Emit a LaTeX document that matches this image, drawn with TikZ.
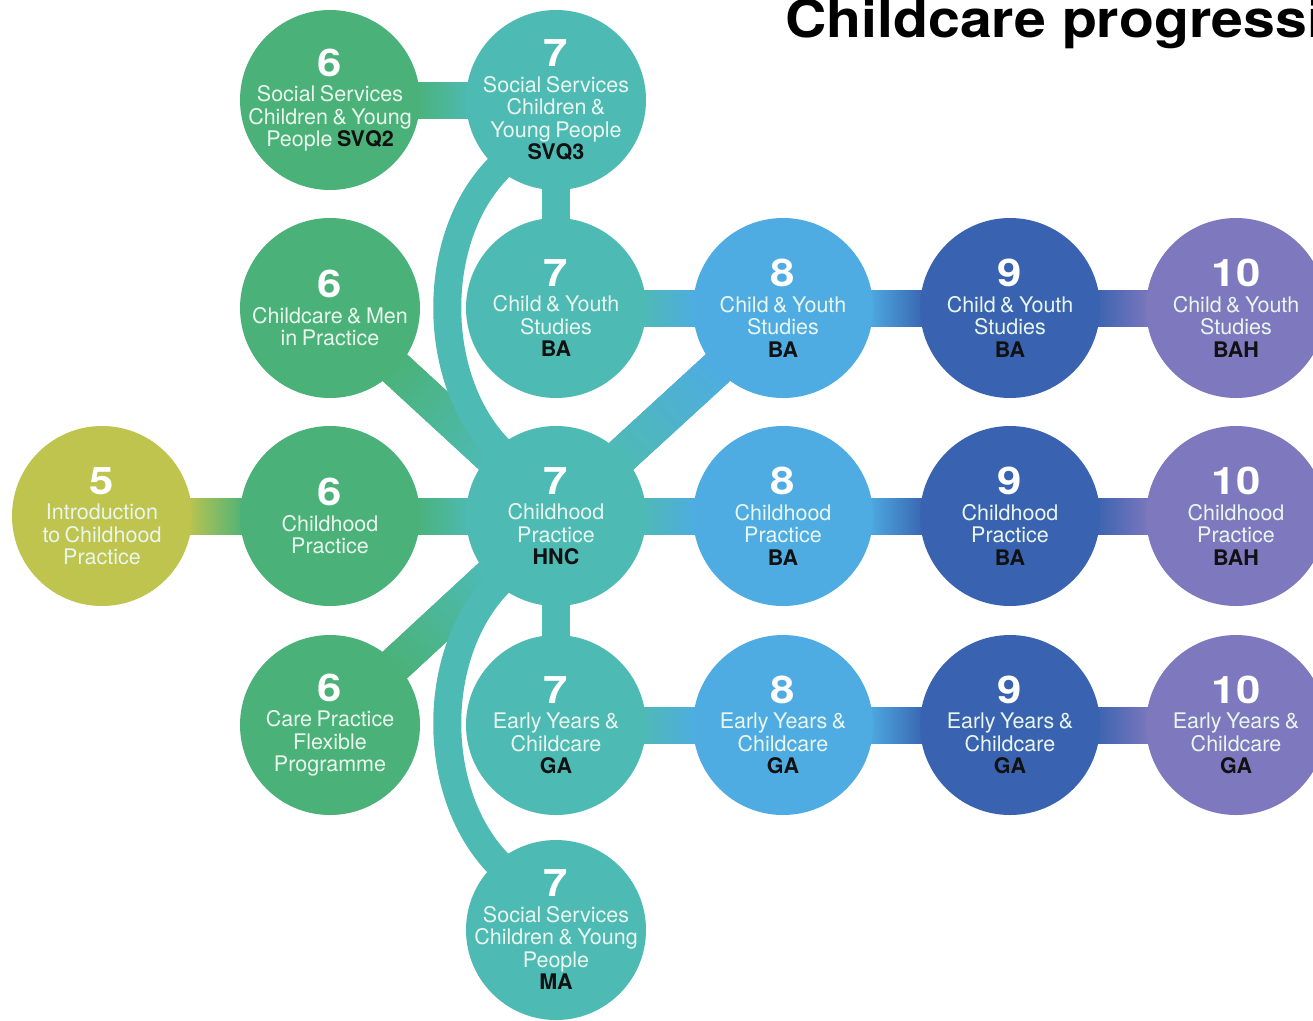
\documentclass[tikz,border=0pt]{standalone}
\usepackage{fontspec}
\setmainfont[WordSpace=0.75]{TeX Gyre Heros}
\newfontfamily\widefont[FakeStretch=1.15]{TeX Gyre Heros}
\newfontfamily\titlefont[FakeStretch=1.1]{TeX Gyre Heros}
\usetikzlibrary{calc,backgrounds}
\definecolor{clime}{HTML}{BEC44E}
\definecolor{cgreen}{HTML}{4AB278}
\definecolor{cteal}{HTML}{4EBAB4}
\definecolor{clblue}{HTML}{4EACE2}
\definecolor{cdblue}{HTML}{3963B0}
\definecolor{cpurple}{HTML}{7E78BE}
\definecolor{ctext}{HTML}{E9F6EE}
\definecolor{ccode}{HTML}{111111}
\newcommand\lvnum[1]{{\widefont\fontsize{38}{38}\selectfont\bfseries\color{white}#1}\\[3pt]}
\newcommand\lvcode[1]{{\bfseries\color{ccode}#1}}
\newcommand\hband[4]{\shade[left color=#3,right color=#4] ($(#1.east)+(-6,-18)$) rectangle ($(#2.west)+(6,18)$);}
\newcommand\dband[4]{%
  \draw[line width=36pt,#3] (#1.center) -- ($(#1.center)!0.5!(#2.center)$);
  \draw[line width=36pt,#4] ($(#1.center)!0.5!(#2.center)$) -- (#2.center);
  \foreach \i in {0,...,19}{%
    \pgfmathsetmacro\s{0.28+0.44*\i/20}%
    \pgfmathsetmacro\e{\s+0.44/20+0.006}%
    \pgfmathtruncatemacro\p{100-100*(\i+0.5)/20}%
    \draw[line width=36pt,color=#3!\p!#4] ($(#1.center)!\s!(#2.center)$) -- ($(#1.center)!\e!(#2.center)$);
  }}
\tikzset{
  lvl/.style={circle, minimum size=180pt, inner sep=-30pt, align=center, text=ctext,
    font=\fontsize{21.5}{22.5}\selectfont, fill=#1},
  vband/.style={line width=28pt, cteal},
  arcband/.style={line width=28pt, cteal},
}
\begin{document}
\begin{tikzpicture}[x=1pt,y=-1pt]
\useasboundingbox (0,0) rectangle (1313,1020);
\clip (0,0) rectangle (1313,1020);
\node[anchor=base west, inner sep=0pt, font=\titlefont\fontsize{52}{52}\selectfont\bfseries] (title) at (785,37) {Childcare progression};

% top row
\node[lvl=cgreen] (svqtwo) at (330,100) {\lvnum{6}Social Services\\Children \& Young\\People \lvcode{SVQ2}};
\node[lvl=cteal] (svqthree) at (556,100) {\lvnum{7}Social Services\\Children \&\\Young People\\\lvcode{SVQ3}};
% row 1
\node[lvl=cgreen] (cymen) at (330,308) {\lvnum{6}Childcare \& Men\\in Practice};
\node[lvl=cteal] (cy7) at (556,308) {\lvnum{7}Child \& Youth\\Studies\\\lvcode{BA}};
\node[lvl=clblue] (cy8) at (783,308) {\lvnum{8}Child \& Youth\\Studies\\\lvcode{BA}};
\node[lvl=cdblue] (cy9) at (1010,308) {\lvnum{9}Child \& Youth\\Studies\\\lvcode{BA}};
\node[lvl=cpurple] (cy10) at (1236,308) {\lvnum{10}Child \& Youth\\Studies\\\lvcode{BAH}};
% row 2
\node[lvl=clime] (intro) at (102,516) {\lvnum{5}Introduction\\to Childhood\\Practice};
\node[lvl=cgreen] (cp6) at (330,516) {\lvnum{6}Childhood\\Practice};
\node[lvl=cteal] (hnc) at (556,516) {\lvnum{7}Childhood\\Practice\\\lvcode{HNC}};
\node[lvl=clblue] (cp8) at (783,516) {\lvnum{8}Childhood\\Practice\\\lvcode{BA}};
\node[lvl=cdblue] (cp9) at (1010,516) {\lvnum{9}Childhood\\Practice\\\lvcode{BA}};
\node[lvl=cpurple] (cp10) at (1236,516) {\lvnum{10}Childhood\\Practice\\\lvcode{BAH}};
% row 3
\node[lvl=cgreen] (care6) at (330,725) {\lvnum{6}Care Practice\\Flexible\\Programme};
\node[lvl=cteal] (ey7) at (556,725) {\lvnum{7}Early Years \&\\Childcare\\\lvcode{GA}};
\node[lvl=clblue] (ey8) at (783,725) {\lvnum{8}Early Years \&\\Childcare\\\lvcode{GA}};
\node[lvl=cdblue] (ey9) at (1010,725) {\lvnum{9}Early Years \&\\Childcare\\\lvcode{GA}};
\node[lvl=cpurple] (ey10) at (1236,725) {\lvnum{10}Early Years \&\\Childcare\\\lvcode{GA}};
% bottom
\node[lvl=cteal] (ma) at (556,930) {\lvnum{7}Social Services\\Children \& Young\\People\\\lvcode{MA}};

\begin{pgfonlayer}{background}
  \fill[white] (0,0) rectangle (1313,1020);
  % horizontal bands
  \hband{svqtwo}{svqthree}{cgreen}{cteal}
  \hband{cy7}{cy8}{cteal}{clblue}
  \hband{cy8}{cy9}{clblue}{cdblue}
  \hband{cy9}{cy10}{cdblue}{cpurple}
  \hband{intro}{cp6}{clime}{cgreen}
  \hband{cp6}{hnc}{cgreen}{cteal}
  \hband{hnc}{cp8}{cteal}{clblue}
  \hband{cp8}{cp9}{clblue}{cdblue}
  \hband{cp9}{cp10}{cdblue}{cpurple}
  \hband{ey7}{ey8}{cteal}{clblue}
  \hband{ey8}{ey9}{clblue}{cdblue}
  \hband{ey9}{ey10}{cdblue}{cpurple}
  % diagonal bands
  \dband{cymen}{hnc}{cgreen}{cteal}
  \dband{care6}{hnc}{cgreen}{cteal}
  \dband{hnc}{cy8}{cteal}{clblue}
  % vertical bands
  \draw[vband] (svqthree.center) -- (cy7.center);
  \draw[vband] (hnc.center) -- (ey7.center);
  % arcs
  \draw[arcband] ($(svqthree.center)+(-51,62)$) .. controls (428,230) and (428,385) .. ($(hnc.center)+(-51,-61)$);
  \draw[arcband] ($(hnc.center)+(-51,61)$) .. controls (428,647) and (428,800) .. ($(ma.center)+(-51,-60)$);
\end{pgfonlayer}
\end{tikzpicture}
\end{document}
